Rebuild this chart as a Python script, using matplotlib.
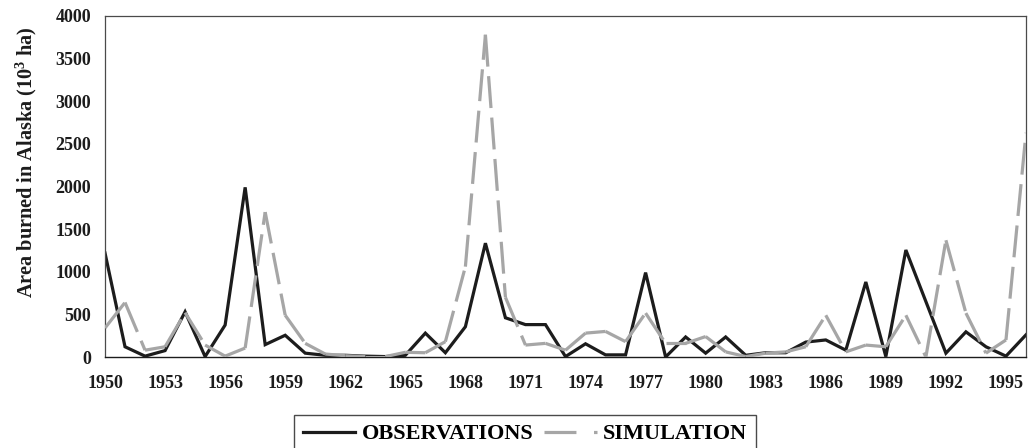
#!/usr/bin/env python3
"""Observed vs simulated area burned in Alaska, 1950-1996."""

import matplotlib as mpl

mpl.use("Agg")
import matplotlib.pyplot as plt
from matplotlib.lines import Line2D

YEARS = list(range(1950, 1997))
OBSERVATIONS = [
    1220, 120, 10, 75, 530, 5, 375, 1990, 145, 255,
    45, 20, 20, 10, 5, 20, 280, 50, 355, 1335,
    460, 380, 380, 5, 155, 25, 25, 990, 0, 235,
    45, 235, 20, 50, 50, 175, 200, 80, 880, 5,
    1255, 650, 45, 295, 120, 10, 260,
]
SIMULATION = [
    340, 640, 80, 120, 520, 140, 10, 105, 1700, 490,
    160, 35, 15, 5, 5, 55, 50, 180, 1060, 3780,
    700, 140, 160, 80, 280, 300, 180, 515, 160, 160,
    240, 60, 5, 45, 60, 120, 490, 60, 140, 120,
    490, 0, 1370, 515, 45, 200, 2630,
]
XTICKS = list(range(1950, 1997, 3))
YTICKS = list(range(0, 4001, 500))

BLACK = "#1c1c1c"
GREY = "#a6a6a6"
SPINE = "#4a4a4a"
LW = 2.3
DASH = (10, 3)


def main() -> None:
    mpl.rcParams.update(
        {
            "font.family": ["Liberation Serif", "DejaVu Serif"],
            "font.weight": "bold",
            "mathtext.fontset": "custom",
            "mathtext.rm": "Liberation Serif:bold",
            "mathtext.bf": "Liberation Serif:bold",
            "mathtext.it": "Liberation Serif:bold",
        }
    )
    fig = plt.figure(figsize=(10.28, 4.48), dpi=100, facecolor="white")
    ax = fig.add_axes([105 / 1028, 1 - 357 / 448, 921 / 1028, 341 / 448])

    ax.plot(YEARS, OBSERVATIONS, color=BLACK, linewidth=LW, zorder=2,
            solid_joinstyle="miter")
    # excel restarts the dash pattern on every segment
    for i in range(len(YEARS) - 1):
        ax.plot(YEARS[i:i + 2], SIMULATION[i:i + 2], color=GREY, linewidth=LW,
                dashes=DASH, dash_capstyle="butt", zorder=3)

    ax.set_xlim(YEARS[0], YEARS[-1])
    ax.set_ylim(0, 4000)
    ax.set_xticks(XTICKS, [str(y) for y in XTICKS])
    ax.set_yticks(YTICKS, [str(v) for v in YTICKS])
    ax.tick_params(axis="both", length=0, labelsize=13, colors=BLACK)
    ax.tick_params(axis="x", pad=13)
    ax.tick_params(axis="y", pad=10)
    for label in ax.get_xticklabels() + ax.get_yticklabels():
        label.set_fontweight("bold")

    for side in ("top", "right", "left"):
        ax.spines[side].set_color(SPINE)
        ax.spines[side].set_linewidth(0.9)
    ax.spines["bottom"].set_color(BLACK)
    ax.spines["bottom"].set_linewidth(1.0)

    ax.set_ylabel("Area burned in Alaska (10$^{3}$ ha)", fontsize=14.6,
                  fontweight="bold", color=BLACK)
    ax.yaxis.label.set_va("center")
    ax.yaxis.set_label_coords(-0.085, 0.57)

    handles = [
        Line2D([], [], color=BLACK, linewidth=LW),
        Line2D([], [], color=GREY, linewidth=LW, dashes=(10, 5.5),
               dash_capstyle="butt"),
    ]
    fig.legend(
        handles,
        ["OBSERVATIONS", "SIMULATION"],
        loc="upper center",
        bbox_to_anchor=(525 / 1028, 1 - 415 / 448),
        ncol=2,
        frameon=True,
        fancybox=False,
        edgecolor=SPINE,
        framealpha=1.0,
        borderaxespad=0.0,
        borderpad=0.4,
        handlelength=2.35,
        handletextpad=0.3,
        columnspacing=0.5,
        prop={"family": "Liberation Serif", "weight": "bold", "size": 16},
    )
    fig.savefig("out.png", dpi=100, facecolor="white")
    plt.close(fig)


if __name__ == "__main__":
    main()
